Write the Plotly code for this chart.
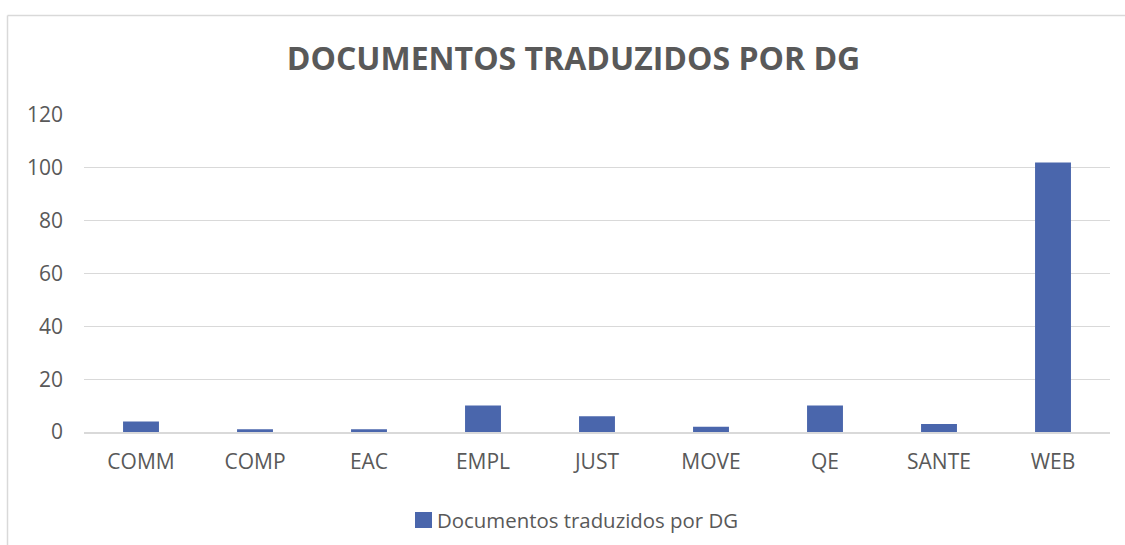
import plotly.graph_objects as go

categories = ["COMM", "COMP", "EAC", "EMPL", "JUST", "MOVE", "QE", "SANTE", "WEB"]
values = [4, 1, 1, 10, 6, 2, 10, 3, 102]
series_name = "Documentos traduzidos por DG"
title_text = "DOCUMENTOS TRADUZIDOS POR DG"
y_ticks = [0, 20, 40, 60, 80, 100, 120]

W, H = 1125, 545
L, R, T, B = 84, 1110, 115, 432
BAR_COLOR = "#4a66ac"
TEXT_COLOR = "#595959"
GRID_COLOR = "#d9d9d9"
FONT = "Open Sans, Calibri, sans-serif"

def px_x(px):
    return (px - L) / (R - L)

def px_y(py):
    return (B - py) / (B - T)

fig = go.Figure()
fig.add_trace(go.Bar(
    x=categories, y=values, name=series_name,
    marker=dict(color=BAR_COLOR, line=dict(width=0)),
    width=0.315, showlegend=False,
))

fig.update_layout(
    width=W, height=H,
    margin=dict(l=L, r=W - R, t=T, b=H - B, autoexpand=False),
    paper_bgcolor="white", plot_bgcolor="white",
    font=dict(family=FONT, color=TEXT_COLOR, size=21),
    title=dict(text="<b>" + title_text + "</b>", x=573.5 / W, xanchor="center",
               y=1 - 59 / H, yanchor="middle",
               font=dict(size=32, color=TEXT_COLOR, family=FONT)),
    xaxis=dict(showgrid=False, showline=True, linecolor=GRID_COLOR, linewidth=1.5,
               ticks="", tickfont=dict(size=21, color=TEXT_COLOR), fixedrange=True,
               ticklabelstandoff=10),
    yaxis=dict(range=[0, 120], tickvals=y_ticks, showgrid=True, gridcolor=GRID_COLOR,
               gridwidth=1, zeroline=False, showline=False, ticks="",
               tickfont=dict(size=21, color=TEXT_COLOR), ticklabelstandoff=20,
               fixedrange=True),
    showlegend=False,
)

# legend (custom so the swatch size matches)
fig.add_shape(type="rect", xref="paper", yref="paper",
              x0=px_x(415), x1=px_x(432), y0=px_y(512), y1=px_y(528),
              fillcolor=BAR_COLOR, line=dict(width=0))
fig.add_annotation(text=series_name, xref="paper", yref="paper",
                   x=px_x(435), y=px_y(520), xanchor="left", yanchor="middle",
                   showarrow=False, font=dict(size=20.4, color=TEXT_COLOR, family=FONT))

# chart border (cropped Excel chart area)
fig.add_shape(type="line", xref="paper", yref="paper",
              x0=px_x(7.5), x1=px_x(1130), y0=px_y(15.5), y1=px_y(15.5),
              line=dict(color=GRID_COLOR, width=1.5))
fig.add_shape(type="line", xref="paper", yref="paper",
              x0=px_x(7.5), x1=px_x(7.5), y0=px_y(15.5), y1=px_y(550),
              line=dict(color=GRID_COLOR, width=1.5))

fig.write_html("out.html", config={"displayModeBar": False},
               post_script="document.body.style.margin='0';document.body.style.overflow='hidden';")
